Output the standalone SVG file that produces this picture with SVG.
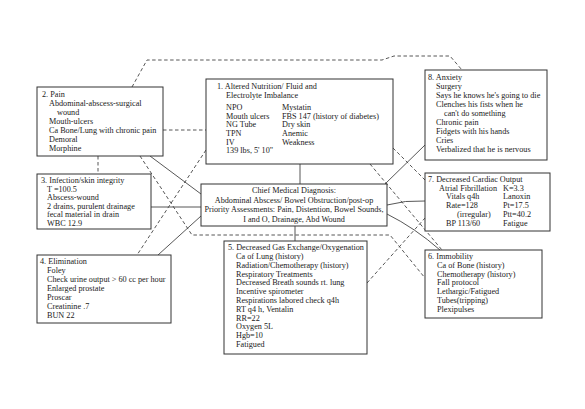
<svg xmlns="http://www.w3.org/2000/svg" width="585" height="409" viewBox="0 0 585 409">
<style>
text{font-family:"Liberation Serif","DejaVu Serif",serif;font-size:8.2px;fill:#1a1a1a}
.c{text-anchor:middle}
.box{fill:#fff;stroke:#333;stroke-width:1}
.s{fill:none;stroke:#444;stroke-width:0.9}
.d{fill:none;stroke:#444;stroke-width:0.9;stroke-dasharray:3.5 2.5}
</style>
<rect width="585" height="409" fill="#fff"/>
<g id="connectors">
<path class="s" d="M300,164V184"/>
<path class="s" d="M295,226V241"/>
<path class="s" d="M151,207H201"/>
<path class="s" d="M150,156L201,194"/>
<path class="s" d="M201,216L158,255"/>
<path class="s" d="M425,145L385,184"/>
<path class="s" d="M387,205Q405,200 425,201"/>
<path class="s" d="M387,214Q415,228 440,250"/>
<path class="d" d="M132,87L147,60H382L394,56H450L462,70"/>
<path class="d" d="M163,130H206"/>
<path class="d" d="M98,156V174"/>
<path class="d" d="M140,156L192,235H390L425,278"/>
<path class="d" d="M206,150L137,255"/>
<path class="d" d="M393,148L425,180"/>
<path class="d" d="M370,164L442,250"/>
<path class="d" d="M367,283L425,218"/>
</g>
<g id="n1">
<rect class="box" x="206" y="79" width="187" height="85"/>
<text x="217" y="89">1. Altered Nutrition/ Fluid and</text>
<text x="226" y="97.5">Electrolyte Imbalance</text>
<text x="226" y="110">NPO</text>
<text x="226" y="118.7">Mouth ulcers</text>
<text x="226" y="127.4">NG Tube</text>
<text x="226" y="136">TPN</text>
<text x="226" y="144.7">IV</text>
<text x="226" y="153.4">139 lbs, 5' 10"</text>
<text x="282" y="110">Mystatin</text>
<text x="282" y="118.7">FBS 147 (history of diabetes)</text>
<text x="282" y="127.4">Dry skin</text>
<text x="282" y="136">Anemic</text>
<text x="282" y="144.7">Weakness</text>
</g>
<g id="n2">
<rect class="box" x="37" y="87" width="126" height="69"/>
<text x="42" y="97">2. Pain</text>
<text x="49" y="106">Abdominal-abscess-surgical</text>
<text x="57" y="115">wound</text>
<text x="49" y="124">Mouth-ulcers</text>
<text x="49" y="133">Ca Bone/Lung with chronic pain</text>
<text x="49" y="142">Demoral</text>
<text x="49" y="151">Morphine</text>
</g>
<g id="n3">
<rect class="box" x="37" y="174" width="114" height="55"/>
<text x="41" y="183">3. Infection/skin integrity</text>
<text x="47" y="191.5">T =100.5</text>
<text x="47" y="200">Abscess-wound</text>
<text x="47" y="208.5">2 drains, purulent drainage</text>
<text x="47" y="217">fecal material in drain</text>
<text x="47" y="225.5">WBC 12.9</text>
</g>
<g id="n4">
<rect class="box" x="37" y="255" width="134" height="68"/>
<text x="40" y="264">4. Elimination</text>
<text x="47" y="273">Foley</text>
<text x="47" y="282">Check urine output &gt; 60 cc per hour</text>
<text x="47" y="291">Enlarged prostate</text>
<text x="47" y="300">Proscar</text>
<text x="47" y="309">Creatinine .7</text>
<text x="47" y="318">BUN 22</text>
</g>
<g id="chief">
<rect class="box" x="201" y="184" width="186" height="42"/>
<text class="c" x="294" y="193">Chief Medical Diagnosis:</text>
<text class="c" x="294" y="202.5">Abdominal Abscess/ Bowel Obstruction/post-op</text>
<text class="c" x="294" y="212">Priority Assessments: Pain, Distention, Bowel Sounds,</text>
<text class="c" x="294" y="221.5">I and O, Drainage, Abd Wound</text>
</g>
<g id="n5">
<rect class="box" x="224" y="241" width="143" height="113"/>
<text x="228" y="250">5. Decreased Gas Exchange/Oxygenation</text>
<text x="236" y="259">Ca of Lung (history)</text>
<text x="236" y="267.8">Radiation/Chemotherapy (history)</text>
<text x="236" y="276.6">Respiratory Treatments</text>
<text x="236" y="285.4">Decreased Breath sounds rt. lung</text>
<text x="236" y="294.2">Incentive spirometer</text>
<text x="236" y="303">Respirations labored check q4h</text>
<text x="236" y="311.8">RT q4 h, Ventalin</text>
<text x="236" y="320.6">RR=22</text>
<text x="236" y="329.4">Oxygen 5L</text>
<text x="236" y="338.2">Hgb=10</text>
<text x="236" y="347">Fatigued</text>
</g>
<g id="n6">
<rect class="box" x="425" y="250" width="117" height="68"/>
<text x="428" y="259">6. Immobility</text>
<text x="437" y="268">Ca of Bone (history)</text>
<text x="437" y="276.7">Chemotherapy (history)</text>
<text x="437" y="285.4">Fall protocol</text>
<text x="437" y="294.1">Lethargic/Fatigued</text>
<text x="437" y="302.8">Tubes(tripping)</text>
<text x="437" y="311.5">Plexipulses</text>
</g>
<g id="n7">
<rect class="box" x="425" y="173" width="125" height="58"/>
<text x="428" y="182">7. Decreased Cardiac Output</text>
<text x="439" y="190.7">Atrial Fibrillation</text>
<text x="446" y="199.4">Vitals q4h</text>
<text x="446" y="208.1">Rate=128</text>
<text x="457" y="216.8">(irregular)</text>
<text x="446" y="225.5">BP 113/60</text>
<text x="503" y="190.7">K=3.3</text>
<text x="503" y="199.4">Lanoxin</text>
<text x="503" y="208.1">Pt=17.5</text>
<text x="503" y="216.8">Ptt=40.2</text>
<text x="503" y="225.5">Fatigue</text>
</g>
<g id="n8">
<rect class="box" x="425" y="70" width="122" height="90"/>
<text x="428" y="80">8. Anxiety</text>
<text x="436" y="89">Surgery</text>
<text x="436" y="98">Says he knows he's going to die</text>
<text x="436" y="107">Clenches his fists when he</text>
<text x="444" y="116">can't do something</text>
<text x="436" y="125">Chronic pain</text>
<text x="436" y="134">Fidgets with his hands</text>
<text x="436" y="143">Cries</text>
<text x="436" y="152">Verbalized that he is nervous</text>
</g>
</svg>
